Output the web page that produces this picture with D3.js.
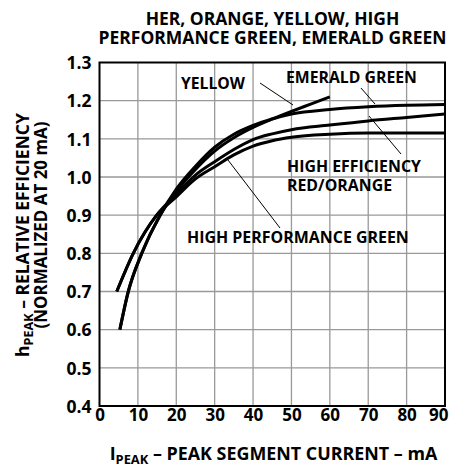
<!DOCTYPE html>
<html>
<head>
<meta charset="utf-8">
<script src="https://cdn.jsdelivr.net/npm/d3@7"></script>
<style>
  html, body { margin: 0; padding: 0; background: #fff; }
  svg text { font-family: "Open Sans", "Noto Sans", sans-serif; font-weight: 700; fill: #000; }
</style>
</head>
<body>
<svg id="chart" width="457" height="467"></svg>
<script>
// ---- data ----
const xTicks = [0, 10, 20, 30, 40, 50, 60, 70, 80, 90];
const yTicks = [0.4, 0.5, 0.6, 0.7, 0.8, 0.9, 1.0, 1.1, 1.2, 1.3];

const yellowX  = [5.3, 7.5, 11, 15.8, 20, 25, 30, 35, 40, 45, 50, 55, 60];
const yellowY  = [0.60, 0.70, 0.80, 0.90, 0.962, 1.020, 1.068, 1.103, 1.130, 1.152, 1.172, 1.191, 1.210];

const emeraldX = [5.3, 7.5, 11, 15.8, 20, 25, 30, 35, 40, 45, 50, 60, 70, 80, 90];
const emeraldY = [0.60, 0.70, 0.80, 0.90, 0.968, 1.028, 1.078, 1.112, 1.135, 1.152, 1.165, 1.177, 1.184, 1.188, 1.190];

const herX     = [4.5, 8.8, 14.9, 20, 25, 30, 35, 40, 45, 50, 60, 70, 80, 90];
const herY     = [0.70, 0.80, 0.90, 0.955, 1.005, 1.040, 1.072, 1.098, 1.113, 1.124, 1.136, 1.147, 1.156, 1.165];

const hpgX     = [4.5, 8.8, 14.9, 20, 25, 30, 35, 40, 45, 50, 60, 70, 80, 90];
const hpgY     = [0.70, 0.80, 0.90, 0.948, 0.995, 1.027, 1.058, 1.081, 1.095, 1.104, 1.112, 1.115, 1.115, 1.115];

const seriesNames = ["YELLOW", "EMERALD GREEN", "HIGH EFFICIENCY RED/ORANGE", "HIGH PERFORMANCE GREEN"];
const titleLines = ["HER, ORANGE, YELLOW, HIGH", "PERFORMANCE GREEN, EMERALD GREEN"];

// ---- layout ----
const svg = d3.select("#chart");
const L = 99.5, R = 445, T = 62.5, B = 406;
const x = d3.scaleLinear().domain([0, 90]).range([L, R]);
const y = d3.scaleLinear().domain([0.4, 1.3]).range([B, T]);

// scale a text's font size so that its rendered width matches a target width
function fit(sel, target, measureNode) {
  const node = measureNode || sel.node();
  const fs = parseFloat(sel.attr("font-size"));
  const w = node.getComputedTextLength();
  if (w > 0) sel.attr("font-size", fs * target / w);
  return sel;
}

// grid
const grid = svg.append("g");
grid.selectAll("line.v").data(xTicks.slice(1, -1)).join("line")
  .attr("x1", d => x(d)).attr("x2", d => x(d)).attr("y1", T).attr("y2", B)
  .attr("stroke", "#999").attr("stroke-width", 1.3);
grid.selectAll("line.h").data(yTicks.slice(1, -1)).join("line")
  .attr("y1", d => y(d)).attr("y2", d => y(d)).attr("x1", L).attr("x2", R)
  .attr("stroke", "#999").attr("stroke-width", 1.3);

// axes (labels only)
const xAxis = svg.append("g").attr("transform", `translate(0,${B})`)
  .call(d3.axisBottom(x).tickValues(xTicks).tickSize(0).tickPadding(3).tickFormat(d3.format("d")));
xAxis.select(".domain").remove();
xAxis.selectAll("text").attr("font-size", 17).attr("dy", "0.71em");
xAxis.selectAll(".tick").filter(d => d === 90).select("text").attr("text-anchor", "end").attr("dx", 3);

const yAxis = svg.append("g").attr("transform", `translate(${L},0)`)
  .call(d3.axisLeft(y).tickValues(yTicks).tickSize(0).tickPadding(8).tickFormat(d3.format(".1f")));
yAxis.select(".domain").remove();
yAxis.selectAll("text").attr("font-size", 17.5).attr("dy", "0.36em");

// frame
svg.append("rect").attr("x", L).attr("y", T).attr("width", R - L).attr("height", B - T)
  .attr("fill", "none").attr("stroke", "#000").attr("stroke-width", 2);

// curves
const line = d3.line().x(d => x(d[0])).y(d => y(d[1])).curve(d3.curveMonotoneX);
const series = [
  d3.zip(yellowX, yellowY),
  d3.zip(emeraldX, emeraldY),
  d3.zip(herX, herY),
  d3.zip(hpgX, hpgY)
];
svg.append("g").selectAll("path").data(series).join("path")
  .attr("d", line).attr("fill", "none").attr("stroke", "#000")
  .attr("stroke-width", 3).attr("stroke-linecap", "butt");

// series labels with leader lines
const lab = svg.append("g");
fit(lab.append("text").attr("x", 181).attr("y", 89).attr("font-size", 15).text(seriesNames[0]), 64);
lab.append("line").attr("x1", 260).attr("y1", 83).attr("x2", 293).attr("y2", 105)
  .attr("stroke", "#000").attr("stroke-width", 1);

fit(lab.append("text").attr("x", 286).attr("y", 83).attr("font-size", 15).text(seriesNames[1]), 131);
lab.append("line").attr("x1", 361).attr("y1", 88).attr("x2", 375).attr("y2", 104)
  .attr("stroke", "#000").attr("stroke-width", 1);

const herT = lab.append("text").attr("x", 287).attr("y", 171.5).attr("font-size", 16);
const herL1 = herT.append("tspan").attr("x", 287).text("HIGH EFFICIENCY");
herT.append("tspan").attr("x", 287).attr("dy", 19).text("RED/ORANGE");
fit(herT, 134, herL1.node());
lab.append("line").attr("x1", 369).attr("y1", 116).attr("x2", 401).attr("y2", 154)
  .attr("stroke", "#000").attr("stroke-width", 1);

fit(lab.append("text").attr("x", 187).attr("y", 243).attr("font-size", 16).text(seriesNames[3]), 222);
lab.append("line").attr("x1", 228).attr("y1", 160).attr("x2", 280).attr("y2", 228)
  .attr("stroke", "#000").attr("stroke-width", 1);

// title
const titles = svg.append("g").selectAll("text").data(titleLines).join("text")
  .attr("x", 272.5).attr("y", (d, i) => 24.5 + i * 19)
  .attr("text-anchor", "middle").attr("font-size", 16).text(d => d);
const t2 = titles.filter((d, i) => i === 1);
const tfs = 16 * 348 / t2.node().getComputedTextLength();
titles.attr("font-size", tfs);

// x axis title
const xt = svg.append("text").attr("x", 273.5).attr("y", 460).attr("text-anchor", "middle").attr("font-size", 17);
xt.append("tspan").text("I");
xt.append("tspan").attr("font-size", "72%").attr("dy", 4).text("PEAK");
xt.append("tspan").attr("dy", -4).text(" – PEAK SEGMENT CURRENT – mA");
fit(xt, 328);

// y axis title
const yt1 = svg.append("text").attr("transform", "translate(28.5,235) rotate(-90)")
  .attr("text-anchor", "middle").attr("font-size", 17);
yt1.append("tspan").text("h");
yt1.append("tspan").attr("font-size", "72%").attr("dy", 4).text("PEAK");
yt1.append("tspan").attr("dy", -4).text(" – RELATIVE EFFICIENCY");
fit(yt1, 244);
fit(svg.append("text").attr("transform", "translate(46.5,225) rotate(-90)")
  .attr("text-anchor", "middle").attr("font-size", 17).text("(NORMALIZED AT 20 mA)"), 207);
</script>
</body>
</html>
